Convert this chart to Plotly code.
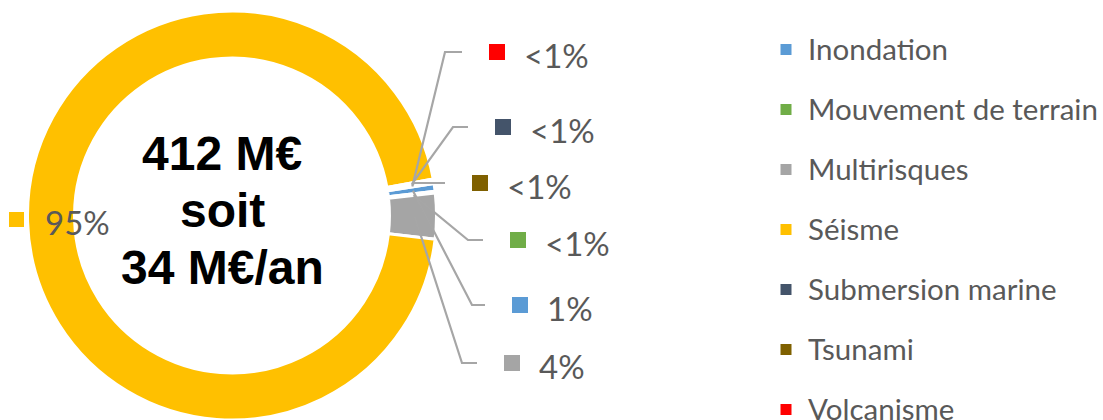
import math
import plotly.graph_objects as go

# Données
categories = ["Inondation", "Mouvement de terrain", "Multirisques", "Séisme",
              "Submersion marine", "Tsunami", "Volcanisme"]
values = [0.6, 0.15, 3.6, 95.3, 0.1, 0.1, 0.15]
colors = ["#5B9BD5", "#70AD47", "#A5A5A5", "#FFC000", "#44546A", "#7F6000", "#FF0000"]
pct_labels = ["1%", "<1%", "4%", "95%", "<1%", "<1%", "<1%"]
center_lines = ["412 M€", "soit", "34 M€/an"]

# Géométrie (pixels)
W, H = 1103, 420
CX, CY, R = 232, 216, 205
HOLE = 0.77
ROT = 81
GREY_TXT = "#595959"
LEADER = "#A6A6A6"

# position des étiquettes : (x du coude, x de fin, y)
label_pos = {
    "Volcanisme": (445, 462, 52),
    "Submersion marine": (453, 468, 127),
    "Tsunami": (414, 445, 183),
    "Mouvement de terrain": (468, 483, 240),
    "Inondation": (472, 485, 305),
    "Multirisques": (462, 477, 363),
}

# légende dessinée à la main (la légende plotly ne peut pas déborder en bas)
LEG_X, LEG_Y0, LEG_DY = 786, 48.5, 60


def px(x):
    return x / W


def py(y):
    return 1 - y / H


fig = go.Figure()

fig.add_trace(
    go.Pie(
        labels=categories,
        values=values,
        hole=HOLE,
        sort=False,
        direction="clockwise",
        rotation=ROT,
        marker=dict(colors=colors, line=dict(color="white", width=3)),
        textinfo="none",
        hoverinfo="label+percent",
        showlegend=False,
        domain=dict(x=[px(CX - R), px(CX + R)], y=[max(0, py(CY + R)), py(CY - R)]),
    )
)

shapes = []
annotations = []

# Lignes de rappel calculées à partir des angles des tranches
total = sum(values)
cum = 0
r_line = 0.9 * 203
for cat, v, col, lab in zip(categories, values, colors, pct_labels):
    mid = math.radians(ROT + 360 * (cum + v / 2) / total)
    cum += v
    if cat not in label_pos:
        continue
    ex, endx, ly = label_pos[cat]
    sx = CX + r_line * math.sin(mid)
    sy = CY - r_line * math.cos(mid)
    shapes.append(dict(
        type="path", xref="paper", yref="paper", layer="above",
        path=f"M {px(sx)},{py(sy)} L {px(ex)},{py(ly)} L {px(endx)},{py(ly)}",
        line=dict(color=LEADER, width=2.2),
    ))
    sqx = endx + 35
    shapes.append(dict(
        type="rect", xref="paper", yref="paper", layer="above",
        x0=px(sqx - 8), x1=px(sqx + 8), y0=py(ly + 8), y1=py(ly - 8),
        fillcolor=col, line=dict(width=0),
    ))
    annotations.append(dict(
        x=px(sqx + 25), y=py(ly + 3), xref="paper", yref="paper",
        xanchor="left", yanchor="middle", showarrow=False, text=lab,
        font=dict(family="Lato", size=33, color=GREY_TXT),
    ))

# Étiquette du séisme (sans ligne de rappel)
i_s = categories.index("Séisme")
shapes.append(dict(
    type="rect", xref="paper", yref="paper", layer="above",
    x0=px(9), x1=px(24), y0=py(227), y1=py(212),
    fillcolor=colors[i_s], line=dict(width=0),
))
annotations.append(dict(
    x=px(43), y=py(222), xref="paper", yref="paper",
    xanchor="left", yanchor="middle", showarrow=False, text=pct_labels[i_s],
    font=dict(family="Lato", size=33, color=GREY_TXT),
))

# Texte central
for k, line in enumerate(center_lines):
    annotations.append(dict(
        x=px(222), y=py(153.5 + 57 * k), xref="paper", yref="paper",
        xanchor="center", yanchor="middle", showarrow=False,
        text=f"<b>{line}</b>",
        font=dict(family="Liberation Sans", size=48, color="black"),
    ))

# Légende
for k, (cat, col) in enumerate(zip(categories, colors)):
    ly = LEG_Y0 + LEG_DY * k
    shapes.append(dict(
        type="rect", xref="paper", yref="paper", layer="above",
        x0=px(LEG_X - 5.5), x1=px(LEG_X + 5.5),
        y0=py(ly + 6.5), y1=py(ly - 4.5),
        fillcolor=col, line=dict(width=0),
    ))
    annotations.append(dict(
        x=px(LEG_X + 20), y=py(ly), xref="paper", yref="paper",
        xanchor="left", yanchor="middle", showarrow=False, text=cat,
        font=dict(family="Lato", size=29.5, color=GREY_TXT),
    ))

fig.update_layout(
    width=W,
    height=H,
    margin=dict(l=0, r=0, t=0, b=0),
    paper_bgcolor="white",
    plot_bgcolor="white",
    shapes=shapes,
    annotations=annotations,
    showlegend=False,
)

fig.write_html(
    "out.html",
    config={"displayModeBar": False},
    post_script="document.body.style.margin='0';",
)
